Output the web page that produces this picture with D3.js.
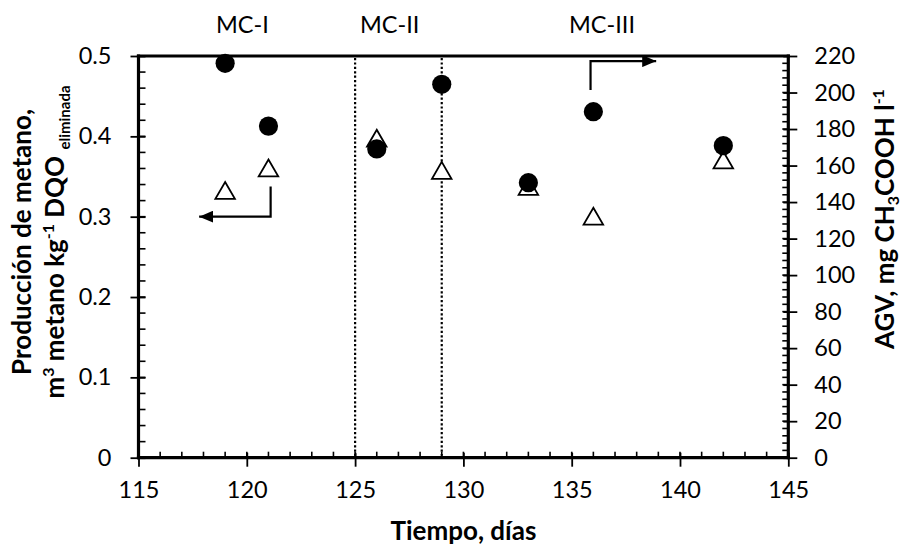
<!DOCTYPE html>
<html>
<head>
<meta charset="utf-8">
<script src="https://cdn.jsdelivr.net/npm/d3@7"></script>
<style>
  html, body { margin: 0; padding: 0; background: #fff; }
  svg { display: block; }
  text { font-family: Lato, "Noto Sans", sans-serif; fill: #000; }
</style>
</head>
<body>
<div id="chart"></div>
<script>
// ---- data ----
const days = [119, 121, 126, 129, 133, 136, 142];
const methane = [0.331, 0.359, 0.396, 0.356, 0.336, 0.299, 0.369];   // left axis (triangles)
const agv = [216, 181.6, 169.1, 204.5, 150.6, 189.5, 170.9];          // right axis (circles)
const xTicks = [115, 120, 125, 130, 135, 140, 145];
const yLeftTicks = [0, 0.1, 0.2, 0.3, 0.4, 0.5];
const yRightTicks = [0, 20, 40, 60, 80, 100, 120, 140, 160, 180, 200, 220];
const phaseBounds = [125, 129];
const phaseLabels = ["MC-I", "MC-II", "MC-III"];
const phaseLabelDays = [119.8, 126.6, 136.4];

// ---- layout ----
const W = 902, H = 548;
const m = { left: 138.5, right: 788.3, top: 56, bottom: 457.7 };

const svg = d3.select("#chart").append("svg").attr("width", W).attr("height", H);

const x = d3.scaleLinear().domain([115, 145]).range([m.left, m.right]);
const yL = d3.scaleLinear().domain([0, 0.5]).range([m.bottom, m.top]);
const yR = d3.scaleLinear().domain([0, 220]).range([m.bottom, m.top]);

// minor ticks
const g = svg.append("g");
const xMinor = d3.range(115, 146, 1);
const yLMinor = d3.range(0, 0.5001, 0.02);
const yRMinor = d3.range(0, 220.1, 4);

g.selectAll(".xmin").data(xMinor).join("line")
  .attr("x1", d => x(d)).attr("x2", d => x(d))
  .attr("y1", m.bottom - 6).attr("y2", m.bottom)
  .attr("stroke", "#000").attr("stroke-width", 1.6);
g.selectAll(".ylmin").data(yLMinor).join("line")
  .attr("x1", m.left).attr("x2", m.left + 7)
  .attr("y1", d => yL(d)).attr("y2", d => yL(d))
  .attr("stroke", "#000").attr("stroke-width", 1.6);
g.selectAll(".yrmin").data(yRMinor).join("line")
  .attr("x1", m.right - 6).attr("x2", m.right)
  .attr("y1", d => yR(d)).attr("y2", d => yR(d))
  .attr("stroke", "#000").attr("stroke-width", 1.6);

// axes
const fontTick = 23.5;
const xAxis = svg.append("g").attr("transform", `translate(0,${m.bottom})`)
  .call(d3.axisBottom(x).tickValues(xTicks).tickSize(9).tickPadding(15).tickFormat(d3.format("d")));
xAxis.selectAll(".tick line").attr("y1", -5).attr("stroke-width", 1.8);

const yLAxis = svg.append("g").attr("transform", `translate(${m.left},0)`)
  .call(d3.axisLeft(yL).tickValues(yLeftTicks).tickSize(8).tickPadding(19)
    .tickFormat(d => d === 0 ? "0" : d3.format(".1f")(d)));
yLAxis.selectAll(".tick line").attr("x1", 7).attr("stroke-width", 1.8);

const yRAxis = svg.append("g").attr("transform", `translate(${m.right},0)`)
  .call(d3.axisRight(yR).tickValues(yRightTicks).tickSize(9).tickPadding(17).tickFormat(d3.format("d")));
yRAxis.selectAll(".tick line").attr("x1", -5).attr("stroke-width", 1.8);

[xAxis, yLAxis, yRAxis].forEach(a => {
  a.select(".domain").remove();
  a.selectAll(".tick text").attr("font-size", fontTick).attr("font-family", "Lato").attr("fill", "#000");
  a.selectAll(".tick line").attr("stroke", "#000");
});
xAxis.selectAll(".tick text").attr("dy", "0.71em");

// frame lines (axes lines thick)
const frame = svg.append("g").attr("stroke", "#000").attr("stroke-width", 3.2).attr("stroke-linecap", "square");
frame.append("line").attr("x1", m.left).attr("x2", m.right).attr("y1", m.bottom).attr("y2", m.bottom);
frame.append("line").attr("x1", m.left).attr("x2", m.right).attr("y1", m.top).attr("y2", m.top);
frame.append("line").attr("x1", m.left).attr("x2", m.left).attr("y1", m.top).attr("y2", m.bottom);
frame.append("line").attr("x1", m.right).attr("x2", m.right).attr("y1", m.top).attr("y2", m.bottom);

// phase dotted lines
svg.selectAll(".phase").data(phaseBounds).join("line")
  .attr("x1", d => x(d)).attr("x2", d => x(d))
  .attr("y1", m.top + 2).attr("y2", m.bottom - 2)
  .attr("stroke", "#000").attr("stroke-width", 2.2).attr("stroke-dasharray", "2.2,2.2");

// phase labels
svg.selectAll(".plabel").data(phaseLabels).join("text")
  .attr("x", (d, i) => x(phaseLabelDays[i])).attr("y", 33)
  .attr("text-anchor", "middle").attr("font-size", 23.5).text(d => d);

// triangles (methane, left axis)
const triSym = d3.symbol().type(d3.symbolTriangle).size(165);
svg.selectAll(".tri").data(days).join("path")
  .attr("d", triSym)
  .attr("transform", (d, i) => `translate(${x(d)},${yL(methane[i]) + 1.5})`)
  .attr("fill", "#fff").attr("stroke", "#000").attr("stroke-width", 1.8);

// circles (AGV, right axis)
svg.selectAll(".circ").data(days).join("circle")
  .attr("cx", d => x(d)).attr("cy", (d, i) => yR(agv[i]))
  .attr("r", 9.6).attr("fill", "#000");

// arrows
const defs = svg.append("defs");
defs.append("marker").attr("id", "ah").attr("viewBox", "0 0 14 12")
  .attr("refX", 14).attr("refY", 6).attr("markerWidth", 14).attr("markerHeight", 12)
  .attr("markerUnits", "userSpaceOnUse").attr("orient", "auto")
  .append("path").attr("d", "M0,0 L14,6 L0,12 Z").attr("fill", "#000");

const arrowL = [[121.1, 0.3375], [121.1, 0.3], [117.8, 0.3]];
svg.append("path")
  .attr("d", d3.line()(arrowL.map(p => [x(p[0]), yL(p[1])])))
  .attr("fill", "none").attr("stroke", "#000").attr("stroke-width", 2.2)
  .attr("marker-end", "url(#ah)");

const arrowR = [[135.87, 201.4], [135.87, 217.2], [138.9, 217.2]];
svg.append("path")
  .attr("d", d3.line()(arrowR.map(p => [x(p[0]), yR(p[1])])))
  .attr("fill", "none").attr("stroke", "#000").attr("stroke-width", 2.2)
  .attr("marker-end", "url(#ah)");

// axis titles
const tfs = 26;
svg.append("text").attr("x", x(130)).attr("y", 540).attr("text-anchor", "middle")
  .attr("font-size", tfs).attr("font-weight", "bold").text("Tiempo, días");

svg.append("text").attr("transform", "translate(31,242) rotate(-90)")
  .attr("text-anchor", "middle").attr("font-size", tfs).attr("font-weight", "bold")
  .text("Producción de metano,");

const lt2 = svg.append("text").attr("transform", "translate(64,242) rotate(-90)")
  .attr("text-anchor", "middle").attr("font-size", tfs).attr("font-weight", "bold");
lt2.append("tspan").text("m");
lt2.append("tspan").attr("font-size", 16).attr("dy", -10).text("3");
lt2.append("tspan").attr("dy", 10).text(" metano kg");
lt2.append("tspan").attr("font-size", 16).attr("dy", -10).text("-1");
lt2.append("tspan").attr("dy", 10).text(" DQO ");
lt2.append("tspan").attr("font-size", 15).attr("dy", 6).text("eliminada");

const rt = svg.append("text").attr("transform", "translate(894,219) rotate(-90)")
  .attr("text-anchor", "middle").attr("font-size", tfs).attr("font-weight", "bold");
rt.append("tspan").text("AGV, mg CH");
rt.append("tspan").attr("font-size", 16).attr("dy", 5).text("3");
rt.append("tspan").attr("dy", -5).text("COOH l");
rt.append("tspan").attr("font-size", 16).attr("dy", -10).text("-1");
</script>
</body>
</html>
